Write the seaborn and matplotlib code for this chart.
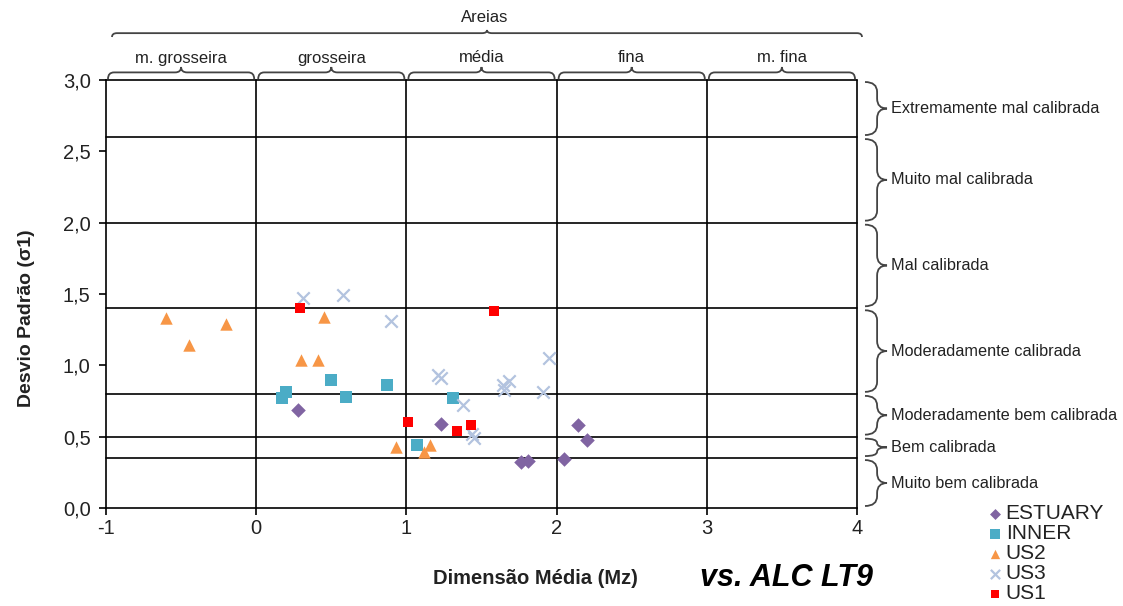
import numpy as np
import pandas as pd
import matplotlib
matplotlib.use("Agg")
import matplotlib.pyplot as plt
from matplotlib.path import Path
from matplotlib.patches import PathPatch
import seaborn as sns

# ---- data -----------------------------------------------------------------
estuary_x = [0.28, 1.23, 2.14, 2.20, 1.76, 1.81, 2.05]
estuary_y = [0.69, 0.59, 0.58, 0.48, 0.32, 0.33, 0.34]

inner_x = [0.20, 0.17, 0.50, 0.60, 0.87, 1.31, 1.07]
inner_y = [0.81, 0.77, 0.90, 0.78, 0.86, 0.77, 0.44]

us2_x = [-0.60, -0.45, -0.20, 0.45, 0.30, 0.41, 0.93, 1.16, 1.12]
us2_y = [1.33, 1.14, 1.29, 1.34, 1.04, 1.04, 0.43, 0.44, 0.39]

us3_x = [0.31, 0.58, 0.90, 1.21, 1.23, 1.38, 1.44, 1.45, 1.64, 1.68, 1.65, 1.95, 1.91]
us3_y = [1.47, 1.49, 1.31, 0.93, 0.91, 0.72, 0.52, 0.49, 0.86, 0.89, 0.83, 1.05, 0.81]

us1_x = [0.29, 1.58, 1.01, 1.34, 1.43]
us1_y = [1.40, 1.38, 0.60, 0.54, 0.58]

# sorting classes (standard deviation) and grain-size classes (mean size)
sorting_edges = [0.0, 0.35, 0.5, 0.8, 1.4, 2.0, 2.6, 3.0]
sorting_labels = ["Muito bem calibrada", "Bem calibrada", "Moderadamente bem calibrada",
                  "Moderadamente calibrada", "Mal calibrada", "Muito mal calibrada",
                  "Extremamente mal calibrada"]
size_edges = [-1, 0, 1, 2, 3, 4]
size_labels = ["m. grosseira", "grosseira", "média", "fina", "m. fina"]
group_label = "Areias"

x_ticks = [-1, 0, 1, 2, 3, 4]
y_ticks = [0.0, 0.5, 1.0, 1.5, 2.0, 2.5, 3.0]

# ---- styling ----------------------------------------------------------------
sns.set_theme(style="white")
plt.rcParams["font.family"] = ["Liberation Sans", "DejaVu Sans"]

W, H = 1123, 606
fig = plt.figure(figsize=(W / 100, H / 100), dpi=100)
ax = fig.add_axes([106 / W, 1 - 508 / H, (857 - 106) / W, (508 - 80) / H])

series = [
    ("ESTUARY", estuary_x, estuary_y, "D", "#8064A2", 55),
    ("INNER", inner_x, inner_y, "s", "#4BACC6", 75),
    ("US2", us2_x, us2_y, "^", "#F79646", 80),
    ("US3", us3_x, us3_y, "x", "#B3C3DF", 80),
    ("US1", us1_x, us1_y, "s", "#FF0000", 62),
]

frames = []
for name, xs, ys, *_ in series:
    frames.append(pd.DataFrame({"Mz": xs, "sigma": ys, "grupo": name}))
df = pd.concat(frames, ignore_index=True)

handles = []
for name, xs, ys, mk, col, size in series:
    sub = df[df["grupo"] == name]
    if mk == "x":
        sns.scatterplot(data=sub, x="Mz", y="sigma", marker=mk, color=col, s=size,
                        linewidth=1.6, ax=ax, zorder=4, clip_on=False)
    else:
        sns.scatterplot(data=sub, x="Mz", y="sigma", marker=mk, color=col, s=size,
                        linewidth=0, ax=ax, zorder=4, clip_on=False)
    handles.append(ax.collections[-1])

ax.set_xlim(-1, 4)
ax.set_ylim(0, 3)

# class boundaries
for e in sorting_edges[1:]:
    ax.axhline(e, color="black", lw=1.2, zorder=2, clip_on=False)
for e in size_edges[1:]:
    ax.axvline(e, color="black", lw=1.2, zorder=2, clip_on=False)

for s in ax.spines.values():
    s.set_color("black")
    s.set_linewidth(1.2)
ax.spines["top"].set_visible(False)
ax.spines["right"].set_visible(False)

ax.set_xticks(x_ticks)
ax.set_xticklabels([str(t) for t in x_ticks])
ax.set_yticks(y_ticks)
ax.set_yticklabels([f"{t:.1f}".replace(".", ",") for t in y_ticks])
ax.tick_params(axis="both", direction="out", length=5, width=1.2, color="black",
               labelsize=14.5, labelcolor="#222222", left=True, bottom=True)
ax.tick_params(axis="y", pad=6)
ax.tick_params(axis="x", pad=3)
ax.set_xlabel("")
ax.set_ylabel("")
ax.grid(False)

fig.text(27 / W, 1 - 318 / H, "Desvio Padrão (σ1)", rotation=90, ha="center", va="center",
         fontsize=14, fontweight="bold", color="#222222")
fig.text(535 / W, 1 - 578 / H, "Dimensão Média (Mz)", ha="center", va="center",
         fontsize=14.5, fontweight="bold", color="#222222")
fig.text(787 / W, 1 - 578 / H, "vs. ALC LT9", ha="center", va="center",
         fontsize=22, fontweight="bold", fontstyle="italic", color="black")

# ---- curly braces drawn on a pixel overlay ----------------------------------
fig.canvas.draw()
ov = fig.add_axes([0, 0, 1, 1], zorder=5)
ov.set_xlim(0, W)
ov.set_ylim(H, 0)
ov.axis("off")
ov.patch.set_alpha(0)


def to_px(x, y):
    dx, dy = ax.transData.transform((x, y))
    return dx, H - dy


def hbrace(x0, x1, y_end, depth, r, color="#444444", lw=1.3):
    xm = (x0 + x1) / 2
    yf = y_end - depth * 0.55
    yt = y_end - depth
    r = min(r, (x1 - x0) / 4)
    verts = [(x0, y_end), (x0, yf), (x0 + r, yf), (xm - r, yf), (xm, yf), (xm, yt),
             (xm, yf), (xm + r, yf), (x1 - r, yf), (x1, yf), (x1, y_end)]
    codes = [Path.MOVETO, Path.CURVE3, Path.CURVE3, Path.LINETO, Path.CURVE3, Path.CURVE3,
             Path.CURVE3, Path.CURVE3, Path.LINETO, Path.CURVE3, Path.CURVE3]
    ov.add_patch(PathPatch(Path(verts, codes), fill=False, ec=color, lw=lw))


def vbrace(y0, y1, x_end, depth, r, color="#444444", lw=1.3):
    ym = (y0 + y1) / 2
    xf = x_end + depth * 0.55
    xt = x_end + depth
    r = min(r, (y1 - y0) / 4)
    verts = [(x_end, y0), (xf, y0), (xf, y0 + r), (xf, ym - r), (xf, ym), (xt, ym),
             (xf, ym), (xf, ym + r), (xf, y1 - r), (xf, y1), (x_end, y1)]
    codes = [Path.MOVETO, Path.CURVE3, Path.CURVE3, Path.LINETO, Path.CURVE3, Path.CURVE3,
             Path.CURVE3, Path.CURVE3, Path.LINETO, Path.CURVE3, Path.CURVE3]
    ov.add_patch(PathPatch(Path(verts, codes), fill=False, ec=color, lw=lw))
    return xt, ym


# grain-size classes along the top
for a, b, lab in zip(size_edges[:-1], size_edges[1:], size_labels):
    xa, ytop = to_px(a, 3.0)
    xb, _ = to_px(b, 3.0)
    hbrace(xa + 2, xb - 2, ytop - 1, 12, 6)
    ov.text((xa + xb) / 2, ytop - 22, lab, ha="center", va="center", fontsize=12,
            color="#222222")

xa, ytop = to_px(size_edges[0], 3.0)
xb, _ = to_px(size_edges[-1], 3.0)
hbrace(xa + 6, xb + 5, ytop - 43, 7, 5)
ov.text((xa + xb) / 2 + 3, ytop - 63, group_label, ha="center", va="center", fontsize=12,
        color="#222222")

# sorting classes along the right
for a, b, lab in zip(sorting_edges[:-1], sorting_edges[1:], sorting_labels):
    xr, ya = to_px(4, a)
    _, yb = to_px(4, b)
    xt, ym = vbrace(yb + 2, ya - 2, xr + 8, 22, 10)
    ov.text(xt + 4, ym, lab, ha="left", va="center", fontsize=11.7, color="#222222")

# legend
leg = ax.legend(handles, [s[0] for s in series], loc="upper left",
                bbox_to_anchor=(990 / W, 1 - 504 / H), bbox_transform=fig.transFigure,
                frameon=False, fontsize=15, handlelength=0.5, handletextpad=0.25,
                labelspacing=0.05, borderpad=0, borderaxespad=0, markerscale=0.75)
for t in leg.get_texts():
    t.set_color("#222222")

fig.savefig("out.png", dpi=100)
